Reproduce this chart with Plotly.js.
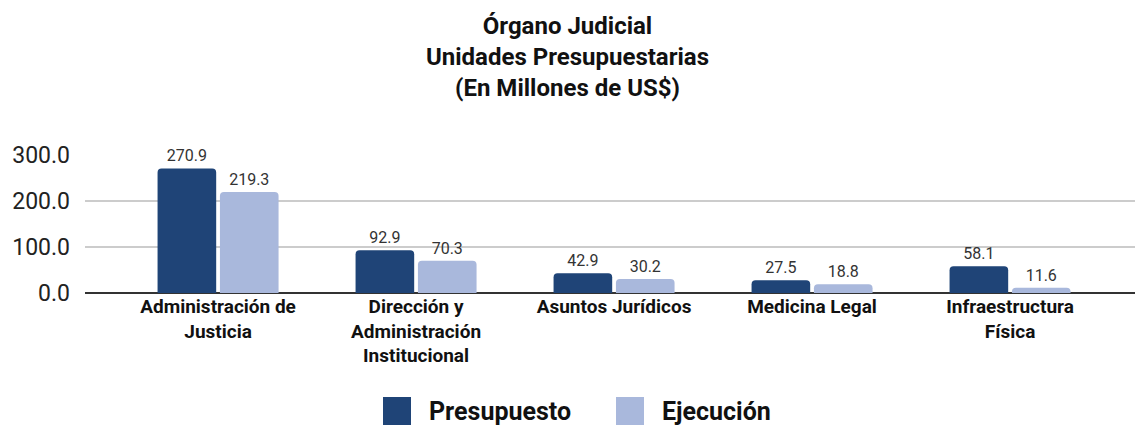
<!DOCTYPE html>
<html>
<head>
<meta charset="utf-8">
<script src="https://cdn.plot.ly/plotly-3.0.1.min.js"></script>
<style>html,body{margin:0;padding:0;background:#fff;}#chart{width:1135px;height:425px;}</style>
</head>
<body>
<div id="chart"></div>
<script>
var categories = ["Administración de<br>Justicia", "Dirección y<br>Administración<br>Institucional", "Asuntos Jurídicos", "Medicina Legal", "Infraestructura<br>Física"];
var seriesNames = ["Presupuesto", "Ejecución"];
var presupuesto = [270.9, 92.9, 42.9, 27.5, 58.1];
var ejecucion = [219.3, 70.3, 30.2, 18.8, 11.6];
var yTicks = [0, 100, 200, 300];
var colors = ["#1f4477", "#a9b8dc"];

var font = "Roboto, 'Noto Sans', Arial, sans-serif";

function barTrace(name, vals, color) {
  return {
    type: "bar",
    name: name,
    x: categories,
    y: vals,
    marker: {color: color},
    text: vals.map(function(v){return v.toFixed(1);}),
    textposition: "outside",
    cliponaxis: false,
    textfont: {family: font, size: 16, color: "#333"},
    hoverinfo: "x+y",
    showlegend: false
  };
}

var data = [
  barTrace(seriesNames[0], presupuesto, colors[0]),
  barTrace(seriesNames[1], ejecucion, colors[1])
];

var shapes = [];
var annotations = [];
var legendX = [383, 616];
var W = 1135, H = 425, ml = 85, mr = 0, mt = 155, mb = 132;
var pw = W - ml - mr, ph = H - mt - mb;
function px2x(p){ return (p - ml) / pw; }
function py2y(p){ return (H - mb - p) / ph; }
for (var i = 0; i < seriesNames.length; i++) {
  shapes.push({
    type: "rect", xref: "paper", yref: "paper",
    x0: px2x(legendX[i]), x1: px2x(legendX[i] + 28),
    y0: py2y(425), y1: py2y(397),
    fillcolor: colors[i], line: {width: 0}
  });
  annotations.push({
    xref: "paper", yref: "paper",
    x: px2x(legendX[i] + 44), y: py2y(411),
    xanchor: "left", yanchor: "middle",
    text: "<b>" + seriesNames[i] + "</b>",
    showarrow: false,
    font: {family: font, size: 25, color: "#111"}
  });
}

var layout = {
  width: W, height: H,
  margin: {l: ml, r: mr, t: mt, b: mb},
  paper_bgcolor: "#fff",
  plot_bgcolor: "#fff",
  font: {family: font, color: "#222"},
  title: {
    text: "<b>Órgano Judicial<br>Unidades Presupuestarias<br>(En Millones de US$)</b>",
    font: {family: font, size: 24, color: "#111"},
    x: 0.5, xanchor: "center",
    y: 1 - 34 / H, yref: "container", yanchor: "top"
  },
  barmode: "group",
  bargap: 0.37,
  bargroupgap: 0.06,
  barcornerradius: 4,
  xaxis: {
    type: "category",
    range: [-0.672, 4.631],
    tickfont: {family: font, size: 19, color: "#111"},
    tickprefix: "<b>", ticksuffix: "</b>",
    showgrid: false,
    showline: false,
    ticks: "",
    fixedrange: true
  },
  yaxis: {
    range: [0, 300],
    tickvals: yTicks,
    tickformat: ".1f",
    tickfont: {family: font, size: 23, color: "#222"},
    showgrid: true,
    gridcolor: "#cccccc",
    gridwidth: 2,
    zeroline: true,
    zerolinecolor: "#333",
    zerolinewidth: 2,
    ticks: "",
    ticklabelstandoff: 14,
    fixedrange: true
  },
  showlegend: false,
  shapes: shapes,
  annotations: annotations
};

Plotly.newPlot("chart", data, layout, {displayModeBar: false, staticPlot: true});
</script>
</body>
</html>
